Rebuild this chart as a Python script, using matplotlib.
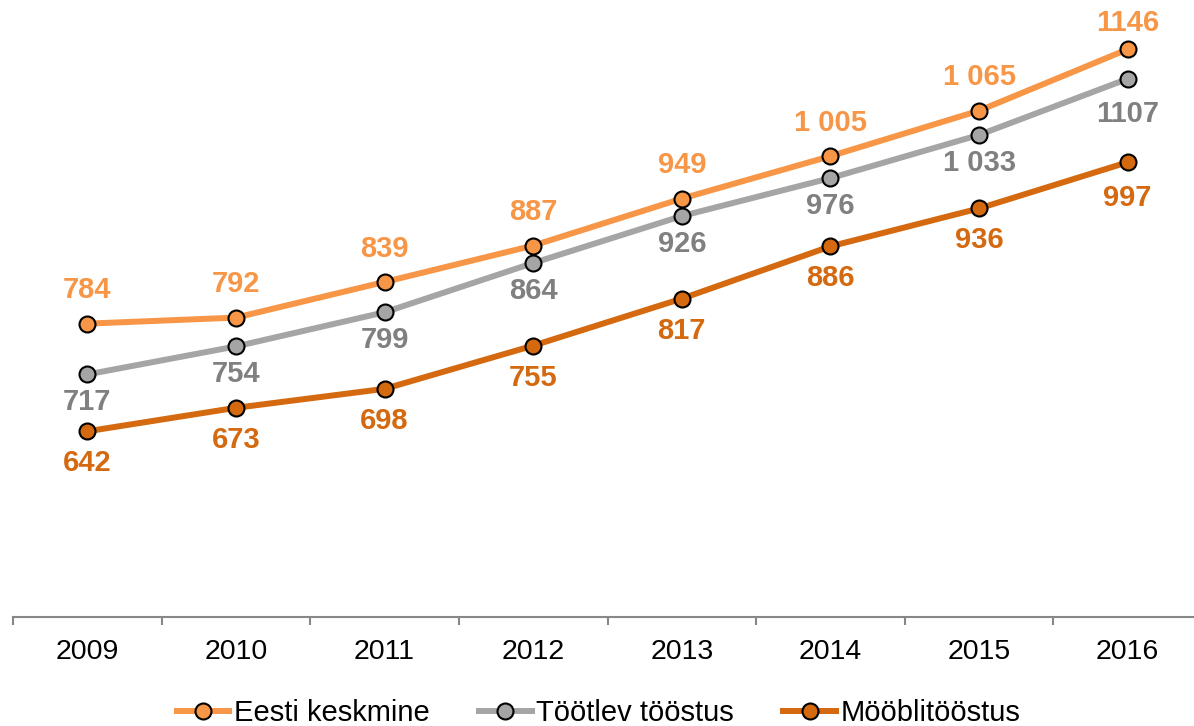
import numpy as np
import matplotlib.pyplot as plt
from matplotlib.ticker import FixedLocator

plt.rcParams['font.family'] = ['Liberation Sans', 'DejaVu Sans']

# data
years = ['2009', '2010', '2011', '2012', '2013', '2014', '2015', '2016']
eesti = [784, 792, 839, 887, 949, 1005, 1065, 1146]
tootlev = [717, 754, 799, 864, 926, 976, 1033, 1107]
moobli = [642, 673, 698, 755, 817, 886, 936, 997]
eesti_txt = ['784', '792', '839', '887', '949', '1 005', '1 065', '1146']
tootlev_txt = ['717', '754', '799', '864', '926', '976', '1 033', '1107']
moobli_txt = ['642', '673', '698', '755', '817', '886', '936', '997']

c_eesti = '#F79646'
c_toot = '#A5A5A5'
c_moob = '#D4690F'

fig = plt.figure(figsize=(11.94, 7.26), dpi=100)
ax = fig.add_axes([13 / 1194, 1 - 617 / 726, (1202 - 13) / 1194, 617 / 726])

x = np.arange(len(years))
series = [
    (eesti, eesti_txt, c_eesti, c_eesti, 'Eesti keskmine', 24, 19),
    (tootlev, tootlev_txt, c_toot, '#808080', 'Töötlev tööstus', -20, -25),
    (moobli, moobli_txt, c_moob, c_moob, 'Mööblitööstus', -23, -26),
]
for vals, txt, col, tcol, name, off, last_off in series:
    ax.plot(x, vals, color=col, lw=4.3, marker='o', ms=11.5,
            mfc=col, mec='black', mew=1.5, label=name, solid_capstyle='butt')
    for i, (v, t) in enumerate(zip(vals, txt)):
        o = last_off if i == len(vals) - 1 else off
        ax.annotate(t, (i, v), xytext=(0, o), textcoords='offset points',
                    ha='center', va='center', fontsize=21, fontweight='bold',
                    color=tcol)

ax.set_xlim(-0.5, 7.5)
ax.set_ylim(397, 1211)
ax.set_yticks([])
for s in ['top', 'right', 'left']:
    ax.spines[s].set_visible(False)
ax.spines['bottom'].set_color('#878787')
ax.spines['bottom'].set_linewidth(1.5)
ax.set_xticks(x)
ax.set_xticklabels(years, fontsize=20.5)
ax.tick_params(axis='x', which='major', length=0, pad=16)
ax.xaxis.set_minor_locator(FixedLocator(np.arange(-0.5, 8, 1)))
ax.tick_params(axis='x', which='minor', length=6, width=1.5, color='#878787')

fig.legend(loc='center', bbox_to_anchor=(0.5, 1 - 713 / 726), ncol=3,
           frameon=False, fontsize=21, handlelength=2.0, handletextpad=0.05,
           columnspacing=1.6)

fig.savefig('out.png', dpi=100)
